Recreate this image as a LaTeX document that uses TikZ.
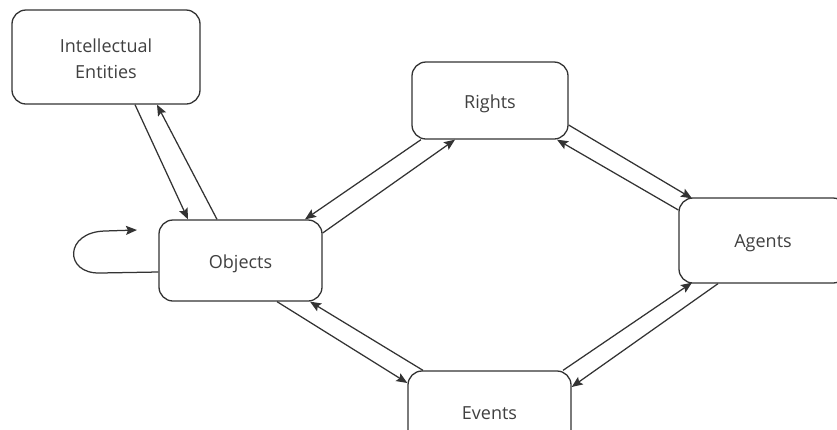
\documentclass[tikz,border=0pt]{standalone}
\usepackage{fontspec}
\setmainfont{Open Sans}
\usetikzlibrary{arrows.meta,calc}
\definecolor{linegray}{HTML}{333333}
\definecolor{textgray}{HTML}{404040}
% pad the top of a label so that it sits a little lower in its box
\newcommand{\lowered}[2][6pt]{\raisebox{0pt}[\dimexpr\height+#1\relax][\depth]{#2}}
\begin{document}
\begin{tikzpicture}[x=1pt,y=-1pt,
  box/.style={draw=linegray,line width=1.3pt,rounded corners=14pt,fill=white,
    text=textgray,align=center,inner sep=0pt,
    font=\fontsize{18}{26}\selectfont},
  link/.style={draw=linegray,line width=1.25pt,
    -{Stealth[length=11pt,width=9pt,inset=2pt]}}]
\useasboundingbox (0,0) rectangle (837,429);
\clip (0,0) rectangle (837,429);
% entity boxes
\node[box,minimum width=188pt,minimum height=94pt] (ie) at (106,57) {\lowered[3pt]{Intellectual}\\Entities};
\node[box,minimum width=163pt,minimum height=81pt] (obj) at (240.5,260.5) {\lowered{Objects}};
\node[box,minimum width=156pt,minimum height=77pt] (rights) at (490,100.5) {\lowered{Rights}};
\node[box,minimum width=168pt,minimum height=85pt] (agents) at (763,240.5) {\lowered{Agents}};
\node[box,minimum width=163pt,minimum height=80pt] (events) at (489.5,411) {\lowered[4pt]{Events}};
% Intellectual Entities <-> Objects
\draw[link] ([xshift=29pt]ie.south) -- ([xshift=-52.5pt]obj.north);
\draw[link] ([xshift=-23.5pt]obj.north) -- ([xshift=51pt]ie.south);
% Objects <-> Rights
\draw[link] ([xshift=-69pt]rights.south) -- ([xshift=64.5pt]obj.north);
\draw[link] ([yshift=27.5pt]obj.east) -- ([xshift=-35pt]rights.south);
% Rights <-> Agents
\draw[link] ([yshift=-24.5pt]rights.east) -- ([xshift=-71pt,yshift=-1pt]agents.north);
\draw[link] ([yshift=30.5pt]agents.west) -- ([xshift=67pt]rights.south);
% Agents <-> Events
\draw[link] ([xshift=73.5pt]events.north) -- ([xshift=-71pt,yshift=1pt]agents.south);
\draw[link] ([xshift=-45pt]agents.south) -- ([yshift=24pt]events.east);
% Objects <-> Events
\draw[link] ([xshift=36.5pt]obj.south) -- ([yshift=28pt]events.west);
\draw[link] ([xshift=-66.5pt]events.north) -- ([xshift=69.5pt]obj.south);
% self loop on Objects
\coordinate (loopend) at (137,230);
\draw[link] ([yshift=-11.5pt]obj.west) -- (100,273)
  .. controls (64,274) and (64,232) .. (105,231) -- (loopend);
\end{tikzpicture}
\end{document}
